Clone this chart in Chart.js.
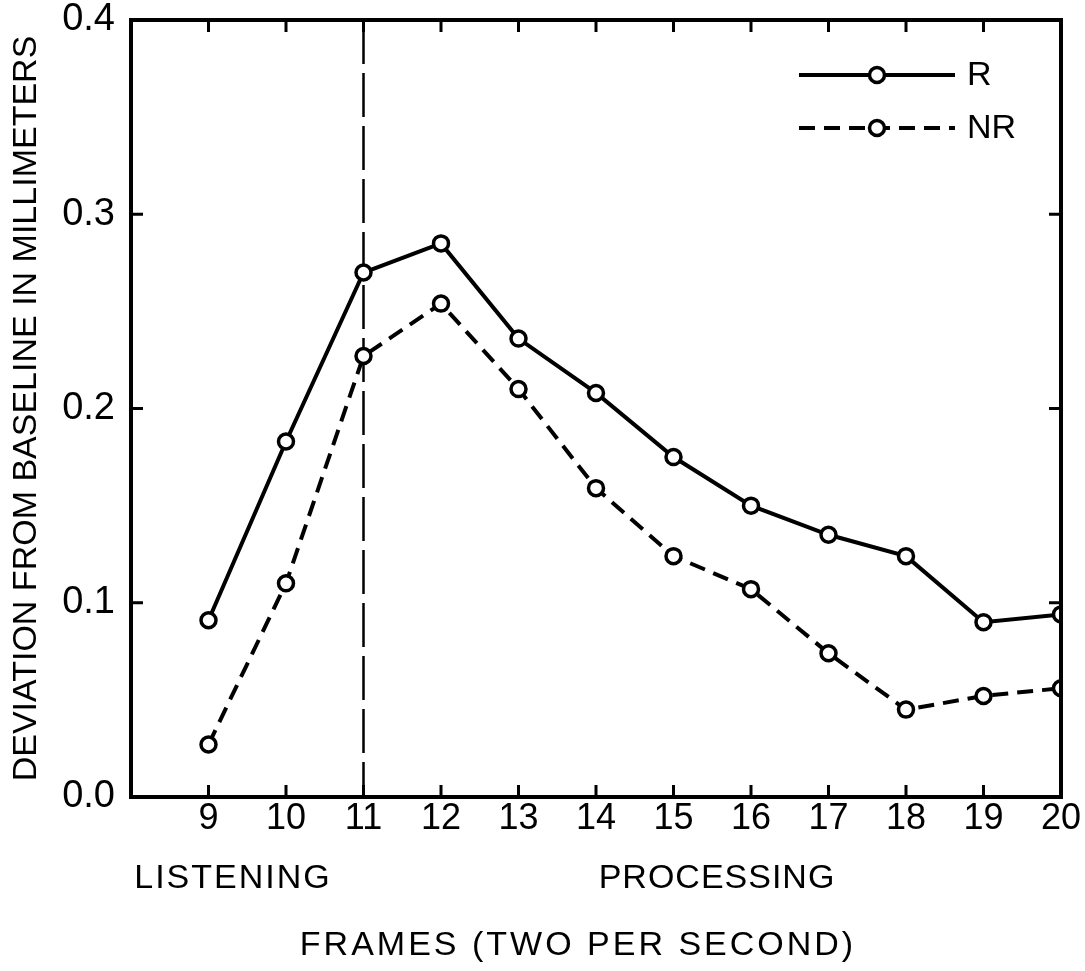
<!DOCTYPE html>
<html><head><meta charset="utf-8">
<script src="https://cdn.jsdelivr.net/npm/chart.js@4/dist/chart.umd.min.js"></script>
<style>html,body{margin:0;padding:0;background:#fff;} #wrap{width:1085px;height:971px;}</style>
</head><body><div id="wrap"><canvas id="c" width="1085" height="971"></canvas></div>
<script>
// ---- data ----
const frames = [9, 10, 11, 12, 13, 14, 15, 16, 17, 18, 19, 20];
const rValues = [0.091, 0.183, 0.270, 0.285, 0.236, 0.208, 0.175, 0.150, 0.135, 0.124, 0.090, 0.094];
const nrValues = [0.027, 0.110, 0.227, 0.254, 0.210, 0.159, 0.124, 0.107, 0.074, 0.045, 0.052, 0.056];
const seriesLabels = ['R', 'NR'];
const yTickValues = [0.0, 0.1, 0.2, 0.3, 0.4];
const xTickValues = [9, 10, 11, 12, 13, 14, 15, 16, 17, 18, 19, 20];
const xRange = [8, 20];
const yRange = [0, 0.4];
const dividerFrame = 11;
const phaseLabels = ['LISTENING', 'PROCESSING'];
const yTitle = 'DEVIATION FROM BASELINE IN MILLIMETERS';
const xTitle = 'FRAMES (TWO PER SECOND)';

// ---- styles ----
const FONT = '"Liberation Sans", Arial, sans-serif';
const INK = '#000';
const LINE_W = 4;
const NR_DASH = [16, 9];

const toXY = (vals) => frames.map((f, i) => ({x: f, y: vals[i]}));

const decor = {
  id: 'decor',
  beforeDatasetsDraw(chart) {
    const {ctx, chartArea: a, scales} = chart;
    const px = scales.x.getPixelForValue(dividerFrame);
    ctx.save();
    ctx.strokeStyle = INK; ctx.lineWidth = 2.5;
    ctx.setLineDash([44, 9]);
    ctx.beginPath(); ctx.moveTo(px, a.top); ctx.lineTo(px, a.bottom); ctx.stroke();
    ctx.restore();
  },
  afterDraw(chart) {
    const {ctx, chartArea: a, scales} = chart;
    ctx.save();
    ctx.strokeStyle = INK; ctx.lineWidth = 4; ctx.setLineDash([]);
    ctx.strokeRect(a.left, a.top, a.right - a.left, a.bottom - a.top);
    ctx.lineWidth = 3;
    const TL = 12;
    scales.x.ticks.forEach(t => {
      const p = scales.x.getPixelForValue(t.value);
      if (p <= a.left + 2 || p >= a.right - 2) return;
      ctx.beginPath();
      ctx.moveTo(p, a.bottom); ctx.lineTo(p, a.bottom - TL);
      ctx.moveTo(p, a.top); ctx.lineTo(p, a.top + TL);
      ctx.stroke();
    });
    scales.y.ticks.forEach(t => {
      const p = scales.y.getPixelForValue(t.value);
      if (p <= a.top + 2 || p >= a.bottom - 2) return;
      ctx.beginPath();
      ctx.moveTo(a.left, p); ctx.lineTo(a.left + TL, p);
      ctx.moveTo(a.right, p); ctx.lineTo(a.right - TL, p);
      ctx.stroke();
    });
    // phase labels + x title
    ctx.fillStyle = INK;
    ctx.textAlign = 'center'; ctx.textBaseline = 'middle';
    ctx.font = '34px ' + FONT;
    ctx.letterSpacing = '2px';
    ctx.fillText(phaseLabels[0], 233, 879);
    ctx.letterSpacing = '1px';
    ctx.fillText(phaseLabels[1], 717, 879);
    ctx.letterSpacing = '3px';
    ctx.fillText(xTitle, 578, 946);
    ctx.letterSpacing = '0px';
    // legend
    const ds = chart.data.datasets;
    const rows = [75, 128];
    ds.forEach((d, i) => {
      const y = rows[i];
      ctx.strokeStyle = INK; ctx.lineWidth = LINE_W;
      ctx.setLineDash(d.borderDash || []);
      ctx.beginPath(); ctx.moveTo(799, y); ctx.lineTo(955, y); ctx.stroke();
      ctx.setLineDash([]);
      ctx.beginPath(); ctx.arc(877, y, d.pointRadius, 0, Math.PI * 2);
      ctx.fillStyle = '#fff'; ctx.fill();
      ctx.lineWidth = d.pointBorderWidth; ctx.stroke();
      ctx.fillStyle = INK; ctx.textAlign = 'left';
      ctx.font = '34px ' + FONT;
      ctx.fillText(d.label, 967, y + 1);
    });
    ctx.restore();
  }
};

new Chart(document.getElementById('c'), {
  type: 'line',
  data: {
    datasets: [
      {label: seriesLabels[0], data: toXY(rValues), borderColor: INK, borderWidth: LINE_W,
       pointRadius: 7.5, pointBorderWidth: 3.5, pointBackgroundColor: '#fff', pointBorderColor: INK, tension: 0},
      {label: seriesLabels[1], data: toXY(nrValues), borderColor: INK, borderWidth: LINE_W, borderDash: NR_DASH,
       pointRadius: 7.5, pointBorderWidth: 3.5, pointBackgroundColor: '#fff', pointBorderColor: INK, tension: 0}
    ]
  },
  options: {
    responsive: false, animation: false, devicePixelRatio: 1,
    layout: {padding: {left: 0, top: 20, right: 24, bottom: 0}},
    plugins: {legend: {display: false}, tooltip: {enabled: false}},
    scales: {
      x: {
        type: 'linear', min: xRange[0], max: xRange[1],
        afterBuildTicks: s => { s.ticks = xTickValues.map(v => ({value: v})); },
        afterFit: s => { s.height = 174; s.paddingLeft = 0; s.paddingRight = 0; },
        ticks: {font: {family: FONT, size: 36}, color: INK, padding: 0, maxRotation: 0, autoSkip: false,
                callback: v => String(v)},
        grid: {display: false, drawTicks: false},
        border: {display: false}
      },
      y: {
        min: yRange[0], max: yRange[1],
        afterBuildTicks: s => { s.ticks = yTickValues.map(v => ({value: v})); },
        afterFit: s => { s.width = 131; s.paddingTop = 0; s.paddingBottom = 0; },
        ticks: {font: {family: FONT, size: 38}, color: INK, padding: 16, callback: v => Number(v).toFixed(1)},
        grid: {display: false, drawTicks: false},
        border: {display: false},
        title: {display: true, text: yTitle, color: INK, font: {family: FONT, size: 34}, padding: {top: 6, bottom: 0}}
      }
    }
  },
  plugins: [decor]
});
</script></body></html>
